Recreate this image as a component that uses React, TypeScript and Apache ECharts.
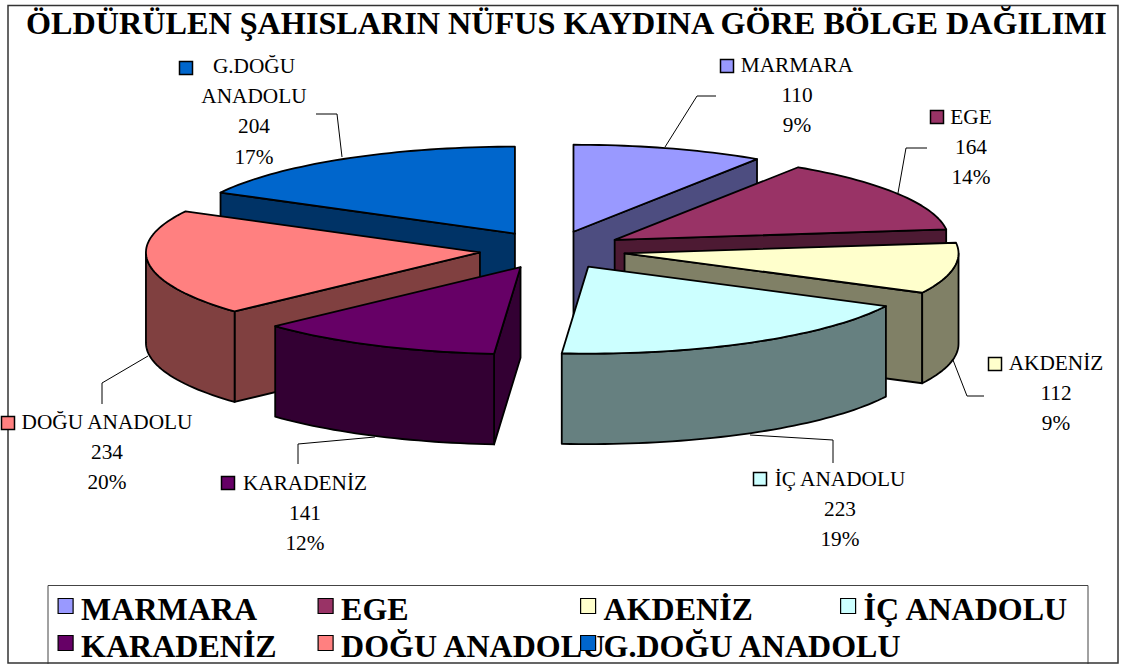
import React, { useEffect, useRef } from "react";
import * as echarts from "echarts";

const titleText = "ÖLDÜRÜLEN ŞAHISLARIN NÜFUS KAYDINA GÖRE BÖLGE DAĞILIMI";
const regions = ["MARMARA", "EGE", "AKDENİZ", "İÇ ANADOLU", "KARADENİZ", "DOĞU ANADOLU", "G.DOĞU ANADOLU"];
const values = [110, 164, 112, 223, 141, 234, 204];
const topColors = ["#9999FF", "#993366", "#FFFFCC", "#CCFFFF", "#660066", "#FF8080", "#0066CC"];
const sideColors = ["#4D4D80", "#4D1A33", "#808066", "#668080", "#330033", "#804040", "#003366"];
const labelNames = [["MARMARA"], ["EGE"], ["AKDENİZ"], ["İÇ ANADOLU"], ["KARADENİZ"], ["DOĞU ANADOLU"], ["G.DOĞU", "ANADOLU"]];

// layout only
const CX = 552.5, CY = 250, RX = 334, RY = 87, DEPTH = 90.5, EXPLODE = 0.219;
const labelAt = [[797, 65], [971, 117], [1056, 363], [840, 479], [305, 483], [107, 422], [254, 66]];
const keyAt = [[727, 66], [937, 117], [995, 364], [760, 479], [228, 483], [8, 423], [186, 68]];
const leaders = [
  [[716, 96], [697, 96], [665, 147]],
  [[927, 148], [906, 148], [898, 193]],
  [[984, 396], [967, 396], [953, 360]],
  [[750, 435], [833, 440], [833, 463]],
  [[298, 464], [298, 444], [375, 437]],
  [[102, 404], [102, 383], [148, 356]],
  [[316, 114], [337, 114], [342, 157]],
];
const legendAt = [[57.5, 593], [317.5, 593], [580, 593], [840, 593], [57.5, 630], [317.5, 630], [580, 630]];
const FONT = "'Liberation Serif', 'Times New Roman', serif";

const total = values.reduce((a, b) => a + b, 0);
const starts: number[] = [];
values.reduce((acc, v, i) => { starts[i] = acc; return acc + v; }, 0);
const rad = (v: number) => (v / total) * Math.PI * 2;

function sliceGeom(i: number) {
  const a0 = rad(starts[i]);
  const a1 = rad(starts[i] + values[i]);
  const mid = (a0 + a1) / 2;
  const ax = CX + RX * EXPLODE * Math.sin(mid);
  const ay = CY - RY * EXPLODE * Math.cos(mid);
  return { a0, a1, ax, ay };
}
const pt = (g: any, a: number, dy = 0) => [g.ax + RX * Math.sin(a), g.ay - RY * Math.cos(a) + dy];
function arcPts(g: any, a0: number, a1: number, dy = 0) {
  const n = Math.max(2, Math.ceil(((a1 - a0) / Math.PI) * 120));
  const out: number[][] = [];
  for (let k = 0; k <= n; k++) out.push(pt(g, a0 + ((a1 - a0) * k) / n, dy));
  return out;
}

function renderSlice(i: number) {
  const g = sliceGeom(i);
  const stroke = { stroke: "#000", lineWidth: 1.8, lineJoin: "round" };
  const children: any[] = [];
  const side = { fill: sideColors[i], ...stroke };
  const face = (a: number) => {
    const p = pt(g, a);
    children.push({
      type: "polygon",
      shape: { points: [[g.ax, g.ay], p, [p[0], p[1] + DEPTH], [g.ax, g.ay + DEPTH]] },
      style: side,
    });
  };
  if (Math.sin(g.a0) < -1e-6) face(g.a0);
  if (Math.sin(g.a1) > 1e-6) face(g.a1);
  const r0 = Math.max(g.a0, Math.PI / 2);
  const r1 = Math.min(g.a1, (Math.PI * 3) / 2);
  if (r1 > r0) {
    children.push({
      type: "polygon",
      shape: { points: [...arcPts(g, r0, r1), ...arcPts(g, r0, r1, DEPTH).reverse()] },
      style: side,
    });
  }
  children.push({
    type: "polygon",
    shape: { points: [[g.ax, g.ay], ...arcPts(g, g.a0, g.a1)] },
    style: { fill: topColors[i], ...stroke },
  });
  children.push({
    type: "polyline",
    shape: { points: leaders[i] },
    style: { stroke: "#000", lineWidth: 1, fill: "none" },
  });
  const lines = [...labelNames[i], String(values[i]), Math.round((values[i] / total) * 100) + "%"];
  lines.forEach((t, k) => {
    children.push({
      type: "text",
      style: {
        text: t, x: labelAt[i][0], y: labelAt[i][1] + k * 30.2,
        fill: "#000", fontSize: 21.3, fontFamily: FONT,
        align: "center", verticalAlign: "middle", textAlign: "center", textVerticalAlign: "middle",
      },
    });
  });
  children.push({
    type: "rect",
    shape: { x: keyAt[i][0] - 6.5, y: keyAt[i][1] - 6.5, width: 13, height: 13 },
    style: { fill: topColors[i], stroke: "#000", lineWidth: 1.5 },
  });
  return { type: "group", children };
}

export default function App() {
  const ref = useRef<HTMLDivElement>(null);
  useEffect(() => {
    const chart = echarts.init(ref.current!, null, { renderer: "svg" });
    const order = values.map((_, i) => i).sort((a, b) => sliceGeom(a).ay - sliceGeom(b).ay);
    chart.setOption({
      animation: false,
      backgroundColor: "#fff",
      title: {
        text: titleText, left: 26, top: 7, padding: 0,
        textStyle: { fontFamily: FONT, fontWeight: "bold", fontSize: 32.2, color: "#000" },
      },
      graphic: [
        { type: "rect", z: 0, shape: { x: 48, y: 585.5, width: 1040, height: 80 }, style: { fill: "#fff", stroke: "#444", lineWidth: 1 } },
        { type: "rect", z: 0, shape: { x: 8, y: 5.5, width: 1110, height: 657.5 }, style: { fill: "none", stroke: "#333", lineWidth: 1.5 } },
      ],
      legend: regions.map((name, i) => ({
        data: [name],
        left: legendAt[i][0],
        top: legendAt[i][1],
        padding: 0,
        itemWidth: 15,
        itemHeight: 15,
        itemGap: 0,
        icon: "rect",
        selectedMode: false,
        itemStyle: { borderColor: "#000", borderWidth: 1.2 },
        formatter: "{t|{name}}",
        textStyle: {
          color: "#000",
          rich: { t: { fontFamily: FONT, fontWeight: "bold", fontSize: 32, color: "#000", padding: [6, 0, 0, 3] } },
        },
      })),
      series: order.map((i) => ({
        type: "custom",
        name: regions[i],
        coordinateSystem: "none",
        silent: true,
        itemStyle: { color: topColors[i] },
        data: [values[i]],
        renderItem: () => renderSlice(i),
      })),
    });
    return () => chart.dispose();
  }, []);
  return <div ref={ref} style={{ position: "absolute", left: 0, top: 0, width: 1125, height: 664 }} />;
}
